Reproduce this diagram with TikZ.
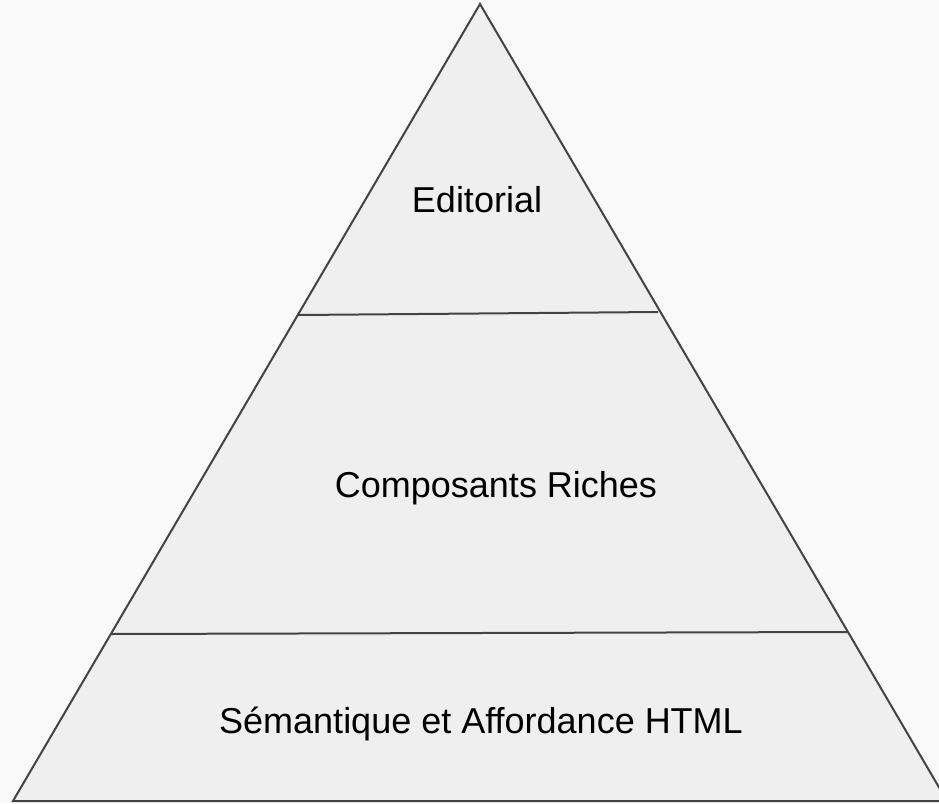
\documentclass[tikz,border=0pt]{standalone}
\usepackage{fontspec}
\setmainfont{Liberation Sans}
\definecolor{bgc}{HTML}{F9F9F9}
\definecolor{fillc}{HTML}{EFEFEF}
\definecolor{linec}{HTML}{434343}
\tikzset{
  edge/.style={draw=linec, line width=2pt, line join=miter},
  divider/.style={draw=linec, line width=2pt},
  lbl/.style={font=\fontsize{36}{40}\selectfont, text=black, anchor=base, inner sep=0pt}
}
\begin{document}
\begin{tikzpicture}[x=1pt,y=-1pt]
\fill[bgc] (0,0) rectangle (939,803);
\useasboundingbox (0,0) rectangle (939,803);
\clip (0,0) rectangle (939,803);
\coordinate (apex) at (480,4);
\coordinate (bl) at (13,801);
\coordinate (br) at (947,801);
\fill[fillc] (apex) -- (bl) -- (br) -- cycle;
\coordinate (d1l) at (298,315);
\coordinate (d1r) at (658,312);
\coordinate (d2l) at (111,634);
\coordinate (d2r) at (847,632);
\draw[divider] (d1l) -- (d1r);
\draw[divider] (d2l) -- (d2r);
\draw[edge] (apex) -- (bl) -- (br) -- cycle;
\node[lbl] (top) at (477,212) {Editorial};
\node[lbl] (mid) at (496,497) {Composants Riches};
\node[lbl] (bot) at (481,733) {Sémantique et Affordance HTML};
\end{tikzpicture}
\end{document}
